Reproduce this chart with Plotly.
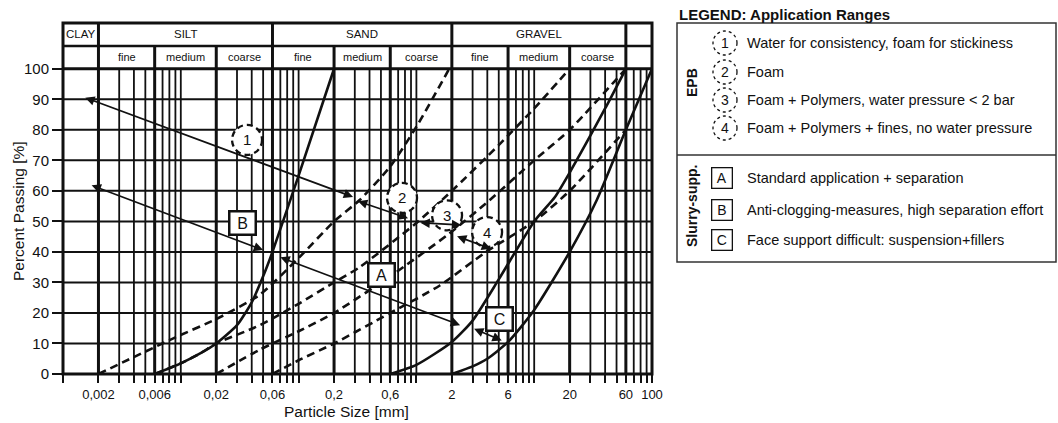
import numpy as np
import plotly.graph_objects as go

# ---------------- data ----------------
# solid grading curves (particle size [mm], percent passing)
s1_size = [0.006, 0.01, 0.015, 0.02, 0.03, 0.04, 0.05, 0.06, 0.1, 0.2]
s1_pass = [0, 3.5, 7, 10, 16, 23.5, 32, 40, 65, 100]
s2_size = [0.6, 1, 2, 3, 5, 10, 15, 20, 40, 60]
s2_pass = [0, 3, 10.5, 17.5, 31, 50, 58, 66, 87, 100]
s3_size = [2, 3, 4, 6, 10, 20, 34, 60, 100]
s3_pass = [0, 2.5, 5, 10.5, 21, 40, 57, 80, 100]

# dashed grading curves
d1_size = [0.002, 0.009, 0.02, 0.047, 0.1, 0.2, 0.33, 0.6, 1, 1.9]
d1_pass = [0, 12, 18, 26, 38, 50, 57, 68, 81, 100]
d2_size = [0.006, 0.01, 0.015, 0.02, 0.047, 0.1, 0.2, 0.33, 1, 2, 5, 10, 20]
d2_pass = [0, 3.5, 7, 10, 16, 23, 30, 35, 49.5, 60, 75, 87, 100]
d3_size = [0.02, 0.047, 0.1, 0.2, 0.6, 1.9, 4.2, 10, 20, 60]
d3_pass = [0, 8, 14, 20, 32, 46, 57, 70, 80, 100]
d4_size = [0.06, 0.1, 0.2, 0.6, 1.58, 3.9, 10, 20, 60]
d4_pass = [0, 4.5, 10, 20, 29, 40, 50, 60, 80]

# double-headed range arrows
arrow_from_size = [0.0015, 0.31, 1.05, 2.15, 0.0017, 0.068, 3.0]
arrow_from_pass = [90.7, 56.8, 49.6, 45.3, 62, 38.4, 15]
arrow_to_size = [0.29, 0.85, 2.4, 4.3, 0.05, 2.35, 5.3]
arrow_to_pass = [58, 51, 48.8, 41, 40.6, 16, 11]

# zone markers
circle_labels = ['1', '2', '3', '4']
circle_size = [0.0365, 0.755, 1.82, 3.98]
circle_pass = [76.7, 57.7, 52, 46.5]
box_labels = ['A', 'B', 'C']
box_size = [0.51, 0.0337, 5.03]
box_pass = [32.5, 49.5, 18]

# soil classification header
header_main = ['CLAY', 'SILT', 'SAND', 'GRAVEL', '']
header_main_edges = [0.001, 0.002, 0.06, 2, 60, 100]
header_sub = ['', 'fine', 'medium', 'coarse', 'fine', 'medium', 'coarse',
              'fine', 'medium', 'coarse', '']
header_sub_edges = [0.001, 0.002, 0.006, 0.02, 0.06, 0.2, 0.6, 2, 6, 20, 60, 100]

# axis ticks
x_tick_vals = [0.002, 0.006, 0.02, 0.06, 0.2, 0.6, 2, 6, 20, 60, 100]
x_tick_text = ['0,002', '0,006', '0,02', '0,06', '0,2', '0,6', '2', '6', '20', '60', '100']
y_tick_vals = [0, 10, 20, 30, 40, 50, 60, 70, 80, 90, 100]

# legend
legend_title = 'LEGEND: Application Ranges'
legend_epb_labels = ['1', '2', '3', '4']
legend_epb_texts = ['Water for consistency, foam for stickiness', 'Foam',
                    'Foam + Polymers, water pressure < 2 bar',
                    'Foam + Polymers + fines, no water pressure']
legend_slurry_labels = ['A', 'B', 'C']
legend_slurry_texts = ['Standard application + separation',
                       'Anti-clogging-measures, high separation effort',
                       'Face support difficult: suspension+fillers']

# ---------------- figure ----------------
W, H = 1058, 423
PL, PR, PT, PB = 63, 652, 23, 374
X_RANGE = [-3, 2]
Y_TOP = 115
Y_SUB = 107.5
INK = '#111111'
FONT = 'Liberation Sans, Arial, Helvetica, sans-serif'
PX_PER_DECADE = (PR - PL) / (X_RANGE[1] - X_RANGE[0])
PX_PER_UNIT = (PB - PT) / Y_TOP


def lg(v):
    return float(np.log10(v))


def px(x):
    return (x - PL) / (PR - PL)


def py(y):
    return (PB - y) / (PB - PT)


def note(x, y, text, size, xanchor='center', ref='paper', **kw):
    d = dict(x=x, y=y, xref=ref if ref == 'paper' else 'x', yref=ref if ref == 'paper' else 'y',
             text=text, showarrow=False, xanchor=xanchor, yanchor='middle',
             font=dict(size=size, color=INK, family=FONT))
    d.update(kw)
    return d


fig = go.Figure()

for sz, ps in [(s1_size, s1_pass), (s2_size, s2_pass), (s3_size, s3_pass)]:
    fig.add_trace(go.Scatter(x=sz, y=ps, mode='lines', hoverinfo='skip', showlegend=False,
                             line=dict(color=INK, width=2.6, shape='spline', smoothing=0.6)))
for sz, ps in [(d1_size, d1_pass), (d2_size, d2_pass), (d3_size, d3_pass), (d4_size, d4_pass)]:
    fig.add_trace(go.Scatter(x=sz, y=ps, mode='lines', hoverinfo='skip', showlegend=False,
                             line=dict(color=INK, width=2.6, dash='8px,5px',
                                       shape='spline', smoothing=0.6)))

shapes = []
annots = []

# grid
grid_vals = [m * 10.0 ** k for k in range(-3, 2) for m in range(1, 10)] + [100.0]
bold_set = set(round(lg(v), 4) for v in header_sub_edges[1:-1])
for v in grid_vals:
    if v in (0.001, 100.0):
        continue
    bold = round(lg(v), 4) in bold_set
    shapes.append(dict(type='line', xref='x', yref='y', x0=v, x1=v, y0=0, y1=100,
                       line=dict(color=INK, width=3 if bold else 1.8), layer='below'))
for yv in y_tick_vals[1:]:
    shapes.append(dict(type='line', xref='paper', yref='y', x0=0, x1=1, y0=yv, y1=yv,
                       line=dict(color=INK, width=3 if yv == 100 else 2), layer='below'))
# header lines
shapes.append(dict(type='line', xref='paper', yref='y', x0=0, x1=1, y0=Y_SUB, y1=Y_SUB,
                   line=dict(color=INK, width=2.5)))
for e in header_sub_edges[1:-1]:
    shapes.append(dict(type='line', xref='x', yref='y', x0=e, x1=e, y0=100, y1=Y_SUB,
                       line=dict(color=INK, width=3)))
for e in header_main_edges[1:-1]:
    shapes.append(dict(type='line', xref='x', yref='y', x0=e, x1=e, y0=Y_SUB, y1=Y_TOP,
                       line=dict(color=INK, width=3)))
# frame
shapes.append(dict(type='rect', xref='paper', yref='paper', x0=0, x1=1, y0=0, y1=1,
                   line=dict(color=INK, width=3)))

for i, t in enumerate(header_main):
    if t:
        c = (lg(header_main_edges[i]) + lg(header_main_edges[i + 1])) / 2
        annots.append(note(c, (Y_SUB + Y_TOP) / 2, t, 11.5, ref='data'))
for i, t in enumerate(header_sub):
    if t:
        c = (lg(header_sub_edges[i]) + lg(header_sub_edges[i + 1])) / 2
        annots.append(note(c, (100 + Y_SUB) / 2, t, 11, ref='data'))

# arrows
for xf, yf, xt, yt in zip(arrow_from_size, arrow_from_pass, arrow_to_size, arrow_to_pass):
    annots.append(dict(x=lg(xt), y=yt, ax=lg(xf), ay=yf, xref='x', yref='y', axref='x',
                       ayref='y', text='', showarrow=True, arrowhead=2, arrowside='end+start',
                       arrowsize=1.1, arrowwidth=1.7, arrowcolor=INK, standoff=0,
                       startstandoff=0, startarrowhead=2, startarrowsize=1.1))

# circle markers (radius 15 px expressed through the axis scales)
R = 15
xfac = 10 ** (R / PX_PER_DECADE)
dy = R / PX_PER_UNIT
for lab, xs, ys in zip(circle_labels, circle_size, circle_pass):
    shapes.append(dict(type='circle', xref='x', yref='y', x0=xs / xfac, x1=xs * xfac,
                       y0=ys - dy, y1=ys + dy,
                       fillcolor='white', line=dict(color=INK, width=2.3, dash='6px,4px'),
                       layer='above'))
    annots.append(note(lg(xs), ys, lab, 15, ref='data'))
for lab, xs, ys in zip(box_labels, box_size, box_pass):
    annots.append(note(lg(xs), ys, lab, 16, ref='data', width=22, height=19, bgcolor='white',
                       bordercolor=INK, borderwidth=2.5, borderpad=1))

# axis titles
annots.append(note(px(18), py(211), 'Percent Passing [%]', 15.5, textangle=-90))
annots.append(note(px(346), py(411), 'Particle Size [mm]', 15.5))

# legend panel
LX0, LX1, LY0, LY1, LSEP = 677, 1056, 23, 262, 155
annots.append(note(px(677), py(15), '<b>' + legend_title + '</b>', 15, xanchor='left'))
shapes.append(dict(type='rect', xref='paper', yref='paper', x0=px(LX0), x1=px(LX1),
                   y0=py(LY1), y1=py(LY0), line=dict(color='#333', width=1.5)))
shapes.append(dict(type='line', xref='paper', yref='paper', x0=px(LX0), x1=px(LX1),
                   y0=py(LSEP), y1=py(LSEP), line=dict(color='#333', width=1.5)))
annots.append(note(px(692), py(83), '<b>EPB</b>', 14, textangle=-90))
annots.append(note(px(692), py(206), '<b>Slurry-supp.</b>', 14, textangle=-90))
epb_rows = [43, 72, 100, 128]
for lab, txt, ry in zip(legend_epb_labels, legend_epb_texts, epb_rows):
    shapes.append(dict(type='circle', xref='paper', yref='paper', x0=px(713), x1=px(737),
                       y0=py(ry + 12), y1=py(ry - 12), line=dict(color=INK, width=1.3, dash='dot')))
    annots.append(note(px(725), py(ry), lab, 14))
    annots.append(note(px(745), py(ry), txt, 14.5, xanchor='left'))
slurry_rows = [178, 210, 240]
for lab, txt, ry in zip(legend_slurry_labels, legend_slurry_texts, slurry_rows):
    annots.append(note(px(722), py(ry), lab, 14, width=17, height=17, bordercolor=INK,
                       borderwidth=1.3, borderpad=1))
    annots.append(note(px(745), py(ry), txt, 14.5, xanchor='left'))

all_tick_vals = grid_vals
all_tick_text = []
for v in all_tick_vals:
    lab = ''
    for tv, tt in zip(x_tick_vals, x_tick_text):
        if abs(lg(tv) - lg(v)) < 1e-6:
            lab = tt
    all_tick_text.append(lab)

fig.update_layout(
    width=W, height=H,
    margin=dict(l=PL, r=W - PR, t=PT, b=H - PB, pad=0),
    paper_bgcolor='white', plot_bgcolor='white', showlegend=False,
    font=dict(family=FONT, color=INK),
    shapes=shapes, annotations=annots,
    xaxis=dict(type='log', range=X_RANGE, showgrid=False, zeroline=False, showline=False,
               tickmode='array', tickvals=all_tick_vals, ticktext=all_tick_text,
               ticks='outside', ticklen=8, tickwidth=2, tickcolor=INK,
               tickfont=dict(size=13, color=INK, family=FONT)),
    yaxis=dict(range=[0, Y_TOP], showgrid=False, zeroline=False, showline=False,
               tickmode='array', tickvals=y_tick_vals, ticks='outside', ticklen=10,
               tickwidth=2, tickcolor=INK, tickfont=dict(size=15, color=INK, family=FONT)),
)

fig.write_html('out.html')
